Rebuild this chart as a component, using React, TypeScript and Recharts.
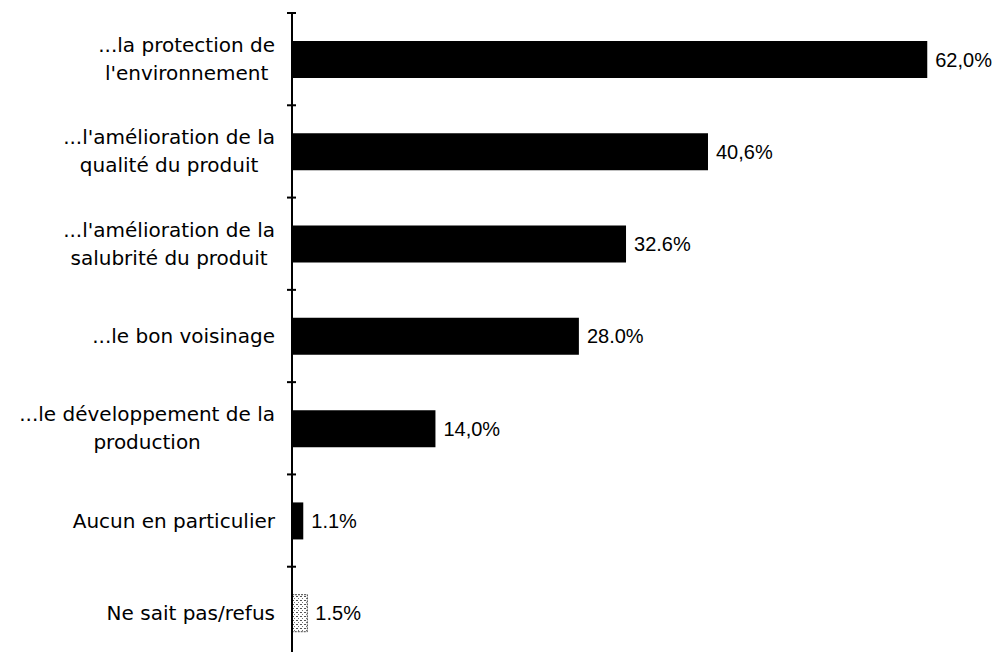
import { Bar, BarChart, Cell, LabelList, XAxis, YAxis } from "recharts";

const categories = [
  "...la protection de\nl'environnement",
  "...l'amélioration de la\nqualité du produit",
  "...l'amélioration de la\nsalubrité du produit",
  "...le bon voisinage",
  "...le développement de la\nproduction",
  "Aucun en particulier",
  "Ne sait pas/refus",
];
const values = [62.0, 40.6, 32.6, 28.0, 14.0, 1.1, 1.5];
const valueLabels = ["62,0%", "40,6%", "32.6%", "28.0%", "14,0%", "1.1%", "1.5%"];

const data = categories.map((name, i) => ({ name, value: values[i], label: valueLabels[i] }));

const W = 997;
const H = 666;
const M = { top: 13, right: 39, bottom: 7, left: 0 };
const BAND = (H - M.top - M.bottom) / categories.length;
const LABEL_FONT = "20px 'DejaVu Sans'";

let ctx: CanvasRenderingContext2D | null = null;
const textWidth = (s: string) => {
  if (!ctx) ctx = document.createElement("canvas").getContext("2d");
  if (!ctx) return s.length * 11;
  ctx.font = LABEL_FONT;
  return ctx.measureText(s).width;
};

const CategoryTick = (props: any) => {
  const { x, y, payload, index } = props;
  const lines = String(payload.value).split("\n");
  const lh = 28;
  const start = y - ((lines.length - 1) * lh) / 2;
  const top = y - BAND / 2;
  const right = x - 9;
  // multi-line labels are centred as a block that ends at the right edge
  const blockW = Math.max(...lines.map(textWidth));
  const cx = right - blockW / 2;
  return (
    <g>
      <line x1={x + 3} x2={x + 12} y1={top} y2={top} stroke="#000" strokeWidth={2} />
      {index === categories.length - 1 && (
        <line x1={x + 3} x2={x + 12} y1={top + BAND} y2={top + BAND} stroke="#000" strokeWidth={2} />
      )}
      <text
        y={start}
        textAnchor="middle"
        dominantBaseline="central"
        fontFamily="DejaVu Sans, Verdana, sans-serif"
        fontSize={20}
        fill="#000"
      >
        {lines.map((l, i) => (
          <tspan key={i} x={cx} dy={i === 0 ? 0 : lh}>
            {l}
          </tspan>
        ))}
      </text>
    </g>
  );
};

export default function App() {
  return (
    <div style={{ position: "absolute", left: 0, top: 0, background: "#fff" }}>
      <BarChart
        width={W}
        height={H}
        data={data}
        layout="vertical"
        margin={M}
      >
        <defs>
          <pattern id="dots" width="4" height="4" patternUnits="userSpaceOnUse">
            <rect width="4" height="4" fill="#fff" />
            <rect x="0" y="0" width="2" height="1" fill="#555" />
            <rect x="2" y="2" width="1" height="1" fill="#777" />
          </pattern>
        </defs>
        <XAxis type="number" domain={[0, 65]} hide />
        <YAxis
          type="category"
          dataKey="name"
          width={292}
          axisLine={{ stroke: "#000", strokeWidth: 2 }}
          tickLine={false}
          tick={<CategoryTick />}
          interval={0}
        />
        <Bar dataKey="value" barSize={37} isAnimationActive={false}>
          {data.map((d, i) => (
            <Cell
              key={i}
              fill={i === data.length - 1 ? "url(#dots)" : "#000"}
              stroke={i === data.length - 1 ? "#444" : "none"}
              strokeDasharray={i === data.length - 1 ? "2 1" : undefined}
            />
          ))}
          <LabelList
            dataKey="label"
            position="right"
            offset={8}
            fill="#000"
            fontFamily="Liberation Sans, Arial, sans-serif"
            fontSize={20}
          />
        </Bar>
      </BarChart>
    </div>
  );
}
